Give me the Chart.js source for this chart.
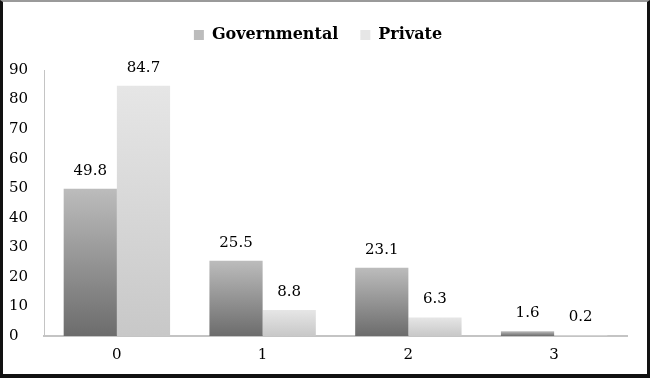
<!DOCTYPE html>
<html lang="en">
<head>
    <meta charset="UTF-8">
    <title>Governmental vs Private</title>
    <script src="https://cdn.jsdelivr.net/npm/chart.js"></script>
    <style>
        html, body {
            margin: 0;
            padding: 0;
            background: #ffffff;
        }

        .frame {
            box-sizing: border-box;
            width: 650px;
            height: 378px;
            border-top: 2px solid #9a9a9a;
            border-left: 3px solid #111;
            border-right: 3px solid #111;
            border-bottom: 4px solid #111;
            position: relative;
        }

        canvas {
            display: block;
        }
    </style>
</head>
<body>
    <div class="frame">
        <canvas id="sectorChart"></canvas>
    </div>

    <script>
        const categories = ['0', '1', '2', '3'];
        const governmental = [49.8, 25.5, 23.1, 1.6];
        const privateSector = [84.7, 8.8, 6.3, 0.2];
        const yTicks = [0, 10, 20, 30, 40, 50, 60, 70, 80, 90];

        const serif = "'DejaVu Serif', 'Liberation Serif', serif";

        // vertical gradient per bar, lighter at the top
        function barFill(topColor, bottomColor, flat) {
            return function (ctx) {
                if (ctx.type !== 'data') return flat;
                const chart = ctx.chart;
                const y = chart.scales.y;
                if (!y) return flat;
                const top = y.getPixelForValue(ctx.raw);
                const bottom = y.getPixelForValue(0);
                if (!isFinite(top) || !isFinite(bottom) || top === bottom) return flat;
                const g = chart.ctx.createLinearGradient(0, top, 0, bottom);
                g.addColorStop(0, topColor);
                g.addColorStop(1, bottomColor);
                return g;
            };
        }

        const valueLabels = {
            id: 'valueLabels',
            afterDatasetsDraw(chart) {
                const c = chart.ctx;
                c.save();
                c.font = '15px ' + serif;
                c.fillStyle = '#000';
                c.textAlign = 'center';
                c.textBaseline = 'middle';
                chart.data.datasets.forEach((ds, i) => {
                    chart.getDatasetMeta(i).data.forEach((bar, j) => {
                        c.fillText(ds.data[j].toFixed(1), bar.x, bar.y - 18);
                    });
                });
                c.restore();
            }
        };

        // extra room between legend and plot
        const legendGap = {
            id: 'legendGap',
            beforeInit(chart) {
                const fit = chart.legend.fit;
                chart.legend.fit = function () {
                    fit.call(this);
                    this.height += 17;
                };
            }
        };

        new Chart(document.getElementById('sectorChart'), {
            type: 'bar',
            data: {
                labels: categories,
                datasets: [
                    {
                        label: 'Governmental',
                        data: governmental,
                        backgroundColor: barFill('#bcbcbc', '#6c6c6c', '#8e8e8e')
                    },
                    {
                        label: 'Private',
                        data: privateSector,
                        backgroundColor: barFill('#e6e6e6', '#c8c8c8', '#d6d6d6')
                    }
                ]
            },
            options: {
                responsive: true,
                maintainAspectRatio: false,
                animation: false,
                datasets: {
                    bar: { categoryPercentage: 0.73, barPercentage: 1.0 }
                },
                layout: {
                    padding: { left: 6, right: 20, top: 3, bottom: 0 }
                },
                scales: {
                    x: {
                        grid: { display: false, drawTicks: false },
                        border: { color: '#c4c4c4', width: 2 },
                        ticks: { color: '#000', padding: 10, font: { family: serif, size: 15 } }
                    },
                    y: {
                        min: 0,
                        max: 90,
                        afterBuildTicks: axis => { axis.ticks = yTicks.map(v => ({ value: v })); },
                        afterFit: axis => { axis.width = 35; },
                        grid: { display: false, drawTicks: false },
                        border: { color: '#c4c4c4', width: 1 },
                        ticks: {
                            color: '#000',
                            crossAlign: 'far',
                            font: { family: serif, size: 15 }
                        }
                    }
                },
                plugins: {
                    legend: {
                        position: 'top',
                        labels: {
                            color: '#000',
                            boxWidth: 10,
                            boxHeight: 10,
                            padding: 22,
                            font: { family: serif, size: 16, weight: 'bold' }
                        }
                    },
                    tooltip: { enabled: false }
                }
            },
            plugins: [valueLabels, legendGap]
        });
    </script>
</body>
</html>
